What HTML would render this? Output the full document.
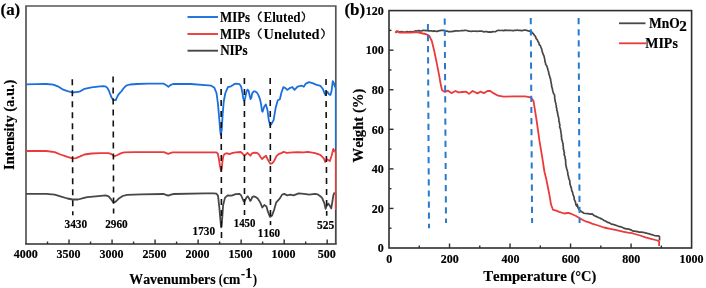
<!DOCTYPE html>
<html><head><meta charset="utf-8"><style>
html,body{margin:0;padding:0;background:#fff;width:706px;height:288px;overflow:hidden}
svg{display:block;filter:blur(0.35px)}
text{font-family:"Liberation Serif",serif;font-weight:bold;fill:#000;font-kerning:none;stroke:#000;stroke-width:0.18px}
</style></head><body>
<svg width="706" height="288" viewBox="0 0 706 288">
<path d="M26,244 L26,6 L335.8,6 L335.8,244" fill="none" stroke="#555" stroke-width="1.7"/>
<line x1="25.15" y1="244" x2="336.65000000000003" y2="244" stroke="#2e2e2e" stroke-width="1.6"/>
<line x1="47.51" y1="244" x2="47.51" y2="241.5" stroke="#2e2e2e" stroke-width="1.4"/>
<line x1="69.03" y1="244" x2="69.03" y2="239.5" stroke="#2e2e2e" stroke-width="1.4"/>
<line x1="90.54" y1="244" x2="90.54" y2="241.5" stroke="#2e2e2e" stroke-width="1.4"/>
<line x1="112.06" y1="244" x2="112.06" y2="239.5" stroke="#2e2e2e" stroke-width="1.4"/>
<line x1="133.57" y1="244" x2="133.57" y2="241.5" stroke="#2e2e2e" stroke-width="1.4"/>
<line x1="155.08" y1="244" x2="155.08" y2="239.5" stroke="#2e2e2e" stroke-width="1.4"/>
<line x1="176.60" y1="244" x2="176.60" y2="241.5" stroke="#2e2e2e" stroke-width="1.4"/>
<line x1="198.11" y1="244" x2="198.11" y2="239.5" stroke="#2e2e2e" stroke-width="1.4"/>
<line x1="219.62" y1="244" x2="219.62" y2="241.5" stroke="#2e2e2e" stroke-width="1.4"/>
<line x1="241.14" y1="244" x2="241.14" y2="239.5" stroke="#2e2e2e" stroke-width="1.4"/>
<line x1="262.65" y1="244" x2="262.65" y2="241.5" stroke="#2e2e2e" stroke-width="1.4"/>
<line x1="284.17" y1="244" x2="284.17" y2="239.5" stroke="#2e2e2e" stroke-width="1.4"/>
<line x1="305.68" y1="244" x2="305.68" y2="241.5" stroke="#2e2e2e" stroke-width="1.4"/>
<line x1="327.19" y1="244" x2="327.19" y2="239.5" stroke="#2e2e2e" stroke-width="1.4"/>
<polyline points="26.00,193.90 46.20,193.90 54.70,194.60 60.40,196.30 67.50,198.50 72.50,199.50 78.10,199.50 83.10,198.10 87.30,197.10 95.80,196.30 105.70,195.30 108.60,196.30 110.70,198.80 113.50,202.80 115.70,201.60 118.50,198.80 122.70,196.00 127.10,194.80 141.20,194.30 163.90,194.00 166.00,194.80 168.20,195.70 171.00,194.60 173.80,194.00 205.00,193.40 213.50,193.40 216.50,193.70 218.00,195.70 219.30,207.10 220.30,218.60 221.20,227.40 222.20,218.60 223.10,205.20 225.00,197.60 227.90,195.30 231.70,195.70 235.60,194.15 236.00,194.10 239.30,193.80 241.00,195.10 242.25,198.00 243.50,200.90 244.30,201.70 245.30,199.90 246.40,197.60 247.70,196.30 248.90,198.00 250.20,200.90 251.00,200.10 252.25,197.15 253.90,196.30 256.00,197.15 257.70,198.40 259.30,200.90 260.20,202.40 262.30,207.50 264.40,205.00 266.50,206.40 267.90,211.65 270.00,216.90 272.10,215.40 274.20,209.60 276.25,202.30 278.30,200.20 280.00,198.10 282.10,194.60 284.20,193.90 287.30,195.40 290.40,194.60 293.50,195.40 298.75,193.30 304.00,193.90 309.20,194.60 315.00,193.90 317.50,194.30 320.30,196.20 322.20,198.20 324.50,203.70 325.60,208.80 326.90,205.20 328.40,203.70 330.00,206.00 331.25,208.40 332.30,202.10 333.40,195.10 334.40,192.70" fill="none" stroke="#474747" stroke-width="1.8" stroke-linejoin="round"/>
<path d="M334.4,192.70 L335.6,193.70 L335.6,244" fill="none" stroke="#474747" stroke-width="1.3" stroke-linejoin="round"/>
<polyline points="26.00,151.00 46.20,151.00 54.70,152.10 60.40,154.50 67.50,156.90 72.50,158.30 76.00,158.10 80.20,156.40 84.50,154.50 91.60,153.50 100.00,153.10 108.60,153.10 111.40,154.10 114.20,156.40 116.40,155.50 121.30,153.10 124.20,152.40 134.20,152.10 163.90,152.10 168.20,153.80 172.40,152.40 205.00,152.30 216.10,152.30 217.80,153.50 218.90,159.00 220.00,166.00 221.00,170.80 221.70,168.70 222.40,161.80 223.30,156.20 224.40,154.15 226.50,153.20 229.30,154.15 232.80,152.80 236.00,152.30 240.70,152.00 242.25,153.30 244.30,155.40 245.90,154.40 247.50,152.80 249.00,154.40 250.40,155.70 251.60,153.65 254.20,152.60 256.80,152.80 258.90,154.40 260.50,157.00 262.00,159.10 263.60,157.50 266.00,155.70 266.10,156.00 268.20,160.40 270.30,163.90 272.40,163.20 274.40,160.40 276.50,156.20 278.60,154.15 281.40,153.20 283.50,151.80 287.00,152.80 292.50,152.30 298.00,152.10 303.60,152.30 307.80,151.80 315.10,153.20 320.30,154.90 323.80,158.40 325.20,161.90 326.90,159.30 329.90,161.00 331.60,155.80 333.30,148.90 334.50,151.50" fill="none" stroke="#ec3a3a" stroke-width="1.8" stroke-linejoin="round"/>
<path d="M334.5,151.50 L335.6,152.50 L335.6,210" fill="none" stroke="#ec3a3a" stroke-width="1.3" stroke-linejoin="round"/>
<polyline points="26.00,84.30 36.00,84.10 46.20,84.00 53.30,84.60 59.00,86.90 63.20,89.70 67.50,91.10 72.50,92.50 76.00,92.10 79.50,91.70 84.50,88.80 91.60,87.40 100.00,86.30 103.60,86.10 105.90,86.70 107.70,88.30 109.00,91.00 110.40,94.70 111.70,97.80 113.10,99.60 114.50,100.10 115.80,100.10 116.70,97.80 118.10,95.10 119.90,92.90 121.70,91.00 123.50,88.30 126.20,85.60 130.00,84.50 137.00,84.00 148.30,83.70 163.90,83.70 166.70,85.40 168.40,86.90 170.30,85.20 173.10,84.00 190.80,84.00 205.00,85.10 211.25,85.70 214.40,87.80 216.50,93.00 217.90,103.40 219.20,118.00 220.20,130.40 220.80,134.90 221.70,130.40 222.70,113.80 223.75,101.30 225.40,93.00 227.90,87.15 231.00,86.30 234.20,84.20 236.00,83.60 239.60,84.10 241.20,86.70 242.25,91.90 243.30,98.70 244.30,100.80 245.40,97.15 246.40,91.90 247.50,89.65 248.50,90.40 249.50,95.10 250.60,99.20 251.40,97.70 252.10,93.50 253.70,91.40 255.30,91.40 256.80,92.40 258.40,95.10 260.00,99.20 261.10,104.40 262.00,110.90 262.60,111.70 264.25,106.50 265.90,104.40 267.40,109.65 268.80,120.10 270.10,125.30 271.50,123.80 273.60,120.10 275.70,107.60 277.80,100.30 279.90,99.20 281.30,93.00 283.40,87.15 285.10,87.80 287.20,89.90 290.30,87.80 292.40,87.15 294.50,89.90 297.60,86.70 301.75,85.70 303.80,86.70 305.90,83.60 309.00,82.15 312.50,83.20 316.00,84.60 320.30,85.80 322.90,89.00 324.60,93.30 325.50,95.00 327.25,91.60 329.00,94.20 330.40,95.00 331.60,90.70 332.80,81.20 333.80,82.90 335.10,87.20" fill="none" stroke="#1a6fdc" stroke-width="1.8" stroke-linejoin="round"/>
<path d="M335.1,87.20 L335.6,88.20 L335.6,148" fill="none" stroke="#1a6fdc" stroke-width="1.3" stroke-linejoin="round"/>
<line x1="72.3" y1="79.2" x2="72.8" y2="215.3" stroke="#111" stroke-width="1.6" stroke-dasharray="6 5"/>
<line x1="113.1" y1="76.5" x2="113.6" y2="213.4" stroke="#111" stroke-width="1.6" stroke-dasharray="6 5"/>
<line x1="221.1" y1="78" x2="221.5" y2="238" stroke="#111" stroke-width="1.6" stroke-dasharray="6 5"/>
<line x1="244.4" y1="78" x2="244.5" y2="215" stroke="#111" stroke-width="1.6" stroke-dasharray="6 5"/>
<line x1="270.2" y1="78" x2="270.5" y2="225" stroke="#111" stroke-width="1.6" stroke-dasharray="6 5"/>
<line x1="326.0" y1="79" x2="326.7" y2="215.8" stroke="#111" stroke-width="1.6" stroke-dasharray="6 5"/>
<line x1="187.5" y1="17" x2="218" y2="17" stroke="#1a6fdc" stroke-width="1.9"/>
<line x1="187.5" y1="34" x2="218" y2="34" stroke="#ec3a3a" stroke-width="1.9"/>
<line x1="187.5" y1="50.7" x2="218" y2="50.7" stroke="#474747" stroke-width="1.9"/>
<rect x="389.0" y="10.6" width="302.6" height="237.4" fill="none" stroke="#2e2e2e" stroke-width="1.6"/>
<line x1="419.26" y1="248.0" x2="419.26" y2="245.5" stroke="#2e2e2e" stroke-width="1.4"/>
<line x1="449.52" y1="248.0" x2="449.52" y2="243.5" stroke="#2e2e2e" stroke-width="1.4"/>
<line x1="479.78" y1="248.0" x2="479.78" y2="245.5" stroke="#2e2e2e" stroke-width="1.4"/>
<line x1="510.04" y1="248.0" x2="510.04" y2="243.5" stroke="#2e2e2e" stroke-width="1.4"/>
<line x1="540.30" y1="248.0" x2="540.30" y2="245.5" stroke="#2e2e2e" stroke-width="1.4"/>
<line x1="570.56" y1="248.0" x2="570.56" y2="243.5" stroke="#2e2e2e" stroke-width="1.4"/>
<line x1="600.82" y1="248.0" x2="600.82" y2="245.5" stroke="#2e2e2e" stroke-width="1.4"/>
<line x1="631.08" y1="248.0" x2="631.08" y2="243.5" stroke="#2e2e2e" stroke-width="1.4"/>
<line x1="661.34" y1="248.0" x2="661.34" y2="245.5" stroke="#2e2e2e" stroke-width="1.4"/>
<line x1="389.0" y1="228.22" x2="391.5" y2="228.22" stroke="#2e2e2e" stroke-width="1.4"/>
<line x1="389.0" y1="208.43" x2="393.5" y2="208.43" stroke="#2e2e2e" stroke-width="1.4"/>
<line x1="389.0" y1="188.65" x2="391.5" y2="188.65" stroke="#2e2e2e" stroke-width="1.4"/>
<line x1="389.0" y1="168.87" x2="393.5" y2="168.87" stroke="#2e2e2e" stroke-width="1.4"/>
<line x1="389.0" y1="149.08" x2="391.5" y2="149.08" stroke="#2e2e2e" stroke-width="1.4"/>
<line x1="389.0" y1="129.30" x2="393.5" y2="129.30" stroke="#2e2e2e" stroke-width="1.4"/>
<line x1="389.0" y1="109.52" x2="391.5" y2="109.52" stroke="#2e2e2e" stroke-width="1.4"/>
<line x1="389.0" y1="89.73" x2="393.5" y2="89.73" stroke="#2e2e2e" stroke-width="1.4"/>
<line x1="389.0" y1="69.95" x2="391.5" y2="69.95" stroke="#2e2e2e" stroke-width="1.4"/>
<line x1="389.0" y1="50.17" x2="393.5" y2="50.17" stroke="#2e2e2e" stroke-width="1.4"/>
<line x1="389.0" y1="30.38" x2="391.5" y2="30.38" stroke="#2e2e2e" stroke-width="1.4"/>
<polyline points="395.40,31.80 396.92,31.72 398.45,31.64 399.96,32.03 401.49,31.66 403.00,32.00 404.45,32.03 405.90,31.91 407.35,31.69 408.80,32.01 410.25,31.68 411.70,32.00 413.09,31.56 414.50,31.20 415.88,30.80 417.30,31.00 418.70,30.63 420.13,30.78 421.56,30.97 422.94,30.39 424.36,30.38 425.79,30.57 427.20,30.40 428.58,30.86 430.03,30.75 431.46,30.78 432.83,31.33 434.32,30.83 435.70,31.30 437.14,31.40 438.52,30.85 439.92,30.60 441.34,30.43 442.77,30.42 444.20,30.40 445.57,31.05 447.13,31.05 448.50,31.70 449.81,31.66 451.12,31.60 452.42,31.31 453.73,31.33 455.02,30.89 456.32,30.79 457.64,30.79 458.97,31.03 460.27,30.75 461.57,30.57 462.89,30.66 464.19,30.47 465.50,30.40 466.95,30.49 468.32,31.05 469.75,31.21 471.20,31.30 472.66,31.07 474.14,31.25 475.60,31.17 477.08,31.36 478.54,31.21 480.00,31.00 481.69,31.09 483.29,31.80 485.00,31.70 486.78,31.63 488.50,32.10 489.92,31.96 491.35,32.12 492.75,31.62 494.18,31.77 495.60,31.70 496.86,30.71 498.40,30.30 499.75,30.42 501.10,30.49 502.44,30.35 503.79,30.56 505.14,30.17 506.49,30.44 507.83,30.37 509.18,30.36 510.53,30.27 511.88,30.54 513.22,30.61 514.57,30.28 515.92,30.41 517.27,29.99 518.61,30.44 519.96,30.40 521.31,30.65 522.66,30.53 524.00,30.15 525.35,30.22 526.70,30.30 528.11,30.91 529.60,31.30 530.40,30.80 531.57,31.60 532.27,32.83 533.35,33.72 534.10,34.90 535.05,35.98 535.81,37.18 536.10,38.66 537.20,39.65 537.70,41.00 538.47,42.14 539.00,43.40 539.32,44.77 540.43,45.73 540.82,47.07 541.40,48.30 541.85,49.77 542.11,51.30 542.63,52.75 543.08,54.22 543.80,55.60 544.29,57.02 544.54,58.51 544.92,59.96 544.90,61.50 545.50,62.90 545.70,64.46 546.73,65.74 547.21,67.21 547.68,68.68 548.00,70.20 548.56,71.61 548.77,73.12 549.08,74.60 549.68,76.00 549.90,77.50 550.58,78.88 550.64,80.41 551.01,81.86 551.21,83.35 551.60,84.80 551.59,86.32 552.07,87.75 552.49,89.18 552.72,90.66 553.10,92.10 553.52,93.58 554.46,94.86 554.70,96.40 554.62,97.78 554.91,99.11 555.04,100.46 555.29,101.79 555.77,103.09 555.97,104.43 556.37,105.74 556.21,107.13 556.80,108.41 556.70,109.80 557.27,111.14 557.45,112.56 557.76,113.95 557.91,115.38 558.38,116.74 558.69,118.13 558.86,119.55 558.90,121.00 559.41,122.34 559.46,123.75 559.93,125.09 559.57,126.58 559.99,127.93 560.54,129.26 560.70,130.65 560.87,132.05 561.09,133.43 561.49,134.79 561.23,136.26 561.70,137.60 561.58,139.04 562.16,140.38 562.37,141.77 562.87,143.11 563.08,144.51 563.13,145.92 563.40,147.30 563.23,148.76 563.91,150.07 563.90,151.50 564.47,152.83 564.06,154.33 564.59,155.67 565.09,157.01 565.06,158.44 565.65,159.77 565.54,161.22 565.80,162.60 565.69,164.17 566.00,165.69 566.34,167.20 566.70,168.70 567.18,170.06 567.42,171.48 567.88,172.85 567.78,174.34 568.26,175.71 568.60,177.10 568.76,178.54 569.42,179.85 569.84,181.22 569.79,182.70 570.02,184.12 570.46,185.49 570.84,186.86 571.40,188.20 571.53,189.64 571.94,191.02 572.64,192.32 572.79,193.75 573.25,195.11 573.82,196.44 574.17,197.83 574.20,199.30 574.88,200.62 575.44,202.00 575.69,203.49 576.06,204.94 576.90,206.20 577.25,204.40 577.61,205.94 577.90,207.50 579.10,209.70 581.00,211.30 582.90,212.50 584.04,213.28 585.40,213.50 587.90,213.65 590.40,214.10 592.25,213.90 593.80,215.30 595.40,216.15 597.25,216.90 599.10,217.80 601.00,218.65 602.60,219.40 604.10,220.50 605.90,221.30 607.75,222.40 609.60,222.80 610.90,223.90 612.75,224.30 614.60,224.90 616.50,225.50 618.40,226.30 620.25,226.60 622.10,227.20 624.00,228.15 625.90,228.90 627.75,228.90 629.60,229.40 631.50,230.15 633.40,231.15 634.70,231.00 636.00,231.54 637.40,231.40 638.66,232.08 640.10,232.15 641.46,232.13 642.80,232.30 644.21,232.51 645.50,233.10 646.94,233.21 648.30,233.70 649.72,233.95 651.00,234.60 652.39,234.70 653.70,235.20 655.03,235.58 656.40,235.80 658.60,235.90 659.50,236.70 659.50,238.55 659.50,240.40" fill="none" stroke="#474747" stroke-width="1.7" stroke-linejoin="round"/>
<polyline points="395.40,33.10 396.80,31.00 398.20,31.70 399.60,32.70 411.70,32.70 415.20,32.10 418.00,32.40 423.00,33.50 425.60,34.00 427.50,34.80 429.40,36.10 431.80,41.00 434.20,50.70 436.70,62.90 439.10,75.10 440.80,84.80 442.00,90.10 443.50,91.30 445.00,92.00 447.80,90.60 451.30,93.10 455.60,91.00 458.40,92.40 462.70,92.00 466.20,91.70 469.00,93.90 472.60,91.00 477.50,93.40 480.40,91.70 483.90,93.10 487.50,91.00 490.30,91.00 493.80,93.40 498.10,95.70 503.70,96.70 513.70,96.30 525.00,96.40 530.70,97.40 533.50,100.90 536.70,121.00 539.40,140.40 542.20,157.10 544.40,171.50 546.40,179.80 549.20,193.70 551.10,204.80 553.00,209.80 555.50,210.40 559.25,211.90 564.25,213.50 568.00,212.90 570.50,213.50 576.00,216.00 579.10,217.80 582.25,219.70 585.40,221.30 588.50,222.20 592.00,223.60 598.00,225.50 604.00,227.50 610.25,228.90 616.50,230.15 622.75,231.60 628.00,232.60 632.00,233.20 634.70,234.00 640.10,235.50 645.50,237.30 651.00,238.80 655.50,240.00 658.60,240.90 659.10,241.80 659.10,246.10" fill="none" stroke="#ec3a3a" stroke-width="1.8" stroke-linejoin="round"/>
<line x1="427.9" y1="23.9" x2="429" y2="228.3" stroke="#2a7acc" stroke-width="2" stroke-dasharray="6.2 4.9"/>
<line x1="444.7" y1="18.6" x2="446" y2="223" stroke="#2a7acc" stroke-width="2" stroke-dasharray="6.2 4.9"/>
<line x1="530.75" y1="18.1" x2="532.1" y2="223.1" stroke="#2a7acc" stroke-width="2" stroke-dasharray="6.2 4.9"/>
<line x1="578.6" y1="18.1" x2="579.6" y2="223.1" stroke="#2a7acc" stroke-width="2" stroke-dasharray="6.2 4.9"/>
<line x1="619" y1="23.3" x2="645.5" y2="23.3" stroke="#474747" stroke-width="1.8"/>
<line x1="619" y1="43.3" x2="646" y2="43.3" stroke="#ec3a3a" stroke-width="1.8"/>
<path d="M261.6,11.6 C257.29999999999995,14.66 257.29999999999995,18.74 261.6,21.8" fill="none" stroke="#1a1a1a" stroke-width="1.3"/>
<path d="M301.7,11.6 C305.6,14.66 305.6,18.74 301.7,21.8" fill="none" stroke="#1a1a1a" stroke-width="1.3"/>
<path d="M261.6,28.5 C257.29999999999995,31.56 257.29999999999995,35.64 261.6,38.7" fill="none" stroke="#1a1a1a" stroke-width="1.3"/>
<path d="M321.3,28.5 C325.3,31.56 325.3,35.64 321.3,38.7" fill="none" stroke="#1a1a1a" stroke-width="1.3"/>
<text x="0.56" y="14.70" font-size="16.2" textLength="19.68" lengthAdjust="spacingAndGlyphs" >(a)</text>
<text x="344.45" y="14.70" font-size="16.2" textLength="20.80" lengthAdjust="spacingAndGlyphs" >(b)</text>
<text x="13.65" y="258.40" font-size="12">4000</text>
<text x="56.53" y="258.40" font-size="12">3500</text>
<text x="99.56" y="258.40" font-size="12">3000</text>
<text x="142.56" y="258.40" font-size="12">2500</text>
<text x="185.59" y="258.40" font-size="12">2000</text>
<text x="228.39" y="258.40" font-size="12">1500</text>
<text x="271.41" y="258.40" font-size="12">1000</text>
<text x="317.68" y="258.40" font-size="12">500</text>
<text x="386.20" y="262.80" font-size="12">0</text>
<text x="440.70" y="262.80" font-size="12">200</text>
<text x="501.39" y="262.80" font-size="12">400</text>
<text x="561.78" y="262.80" font-size="12">600</text>
<text x="622.31" y="262.80" font-size="12">800</text>
<text x="679.55" y="262.80" font-size="12">1000</text>
<text x="377.76" y="252.30" font-size="12">0</text>
<text x="371.76" y="212.73" font-size="12">20</text>
<text x="371.76" y="173.17" font-size="12">40</text>
<text x="371.76" y="133.60" font-size="12">60</text>
<text x="371.76" y="94.03" font-size="12">80</text>
<text x="365.76" y="54.47" font-size="12">100</text>
<text x="365.76" y="14.90" font-size="12">120</text>
<text x="64.47" y="227.80" font-size="12" textLength="22.66" lengthAdjust="spacingAndGlyphs" >3430</text>
<text x="105.23" y="227.80" font-size="12" textLength="22.50" lengthAdjust="spacingAndGlyphs" >2960</text>
<text x="192.60" y="234.90" font-size="12" textLength="22.53" lengthAdjust="spacingAndGlyphs" >1730</text>
<text x="233.73" y="226.90" font-size="12" textLength="21.68" lengthAdjust="spacingAndGlyphs" >1450</text>
<text x="257.86" y="237.20" font-size="12" textLength="22.16" lengthAdjust="spacingAndGlyphs" >1160</text>
<text x="317.04" y="229.10" font-size="12" textLength="17.28" lengthAdjust="spacingAndGlyphs" >525</text>
<text x="129.30" y="283.50" font-size="15" textLength="86.34" lengthAdjust="spacingAndGlyphs" >Wavenumbers</text>
<text x="218.87" y="283.50" font-size="15" textLength="4.02" lengthAdjust="spacingAndGlyphs" font-weight="normal" style="stroke-width:0">(</text>
<text x="222.94" y="283.50" font-size="15" textLength="17.29" lengthAdjust="spacingAndGlyphs" >cm</text>
<text x="241.06" y="278.40" font-size="13" textLength="3.97" lengthAdjust="spacingAndGlyphs" font-weight="normal" >-</text>
<text x="245.19" y="278.20" font-size="15" textLength="6.93" lengthAdjust="spacingAndGlyphs" >1</text>
<text x="252.67" y="283.50" font-size="15" textLength="4.41" lengthAdjust="spacingAndGlyphs" font-weight="normal" style="stroke-width:0">)</text>
<text x="483.27" y="281.30" font-size="14.6" textLength="83.51" lengthAdjust="spacingAndGlyphs" >Temperature</text>
<text x="570.57" y="281.30" font-size="14.6" textLength="25.77" lengthAdjust="spacingAndGlyphs" >(°C)</text>
<text transform="translate(14.20,169.99) rotate(-90)" x="0" y="0" font-size="15" textLength="90.42" lengthAdjust="spacingAndGlyphs" >Intensity (a.u.)</text>
<text transform="translate(363.10,162.41) rotate(-90)" x="0" y="0" font-size="14.5" textLength="73.75" lengthAdjust="spacingAndGlyphs" >Weight (%)</text>
<text x="220.08" y="22.00" font-size="13.7" textLength="30.03" lengthAdjust="spacingAndGlyphs" >MIPs</text>
<text x="220.08" y="38.70" font-size="13.7" textLength="30.03" lengthAdjust="spacingAndGlyphs" >MIPs</text>
<text x="263.38" y="22.00" font-size="13.7" textLength="37.27" lengthAdjust="spacingAndGlyphs" style="stroke-width:0">Eluted</text>
<text x="263.64" y="38.70" font-size="13.7" textLength="55.92" lengthAdjust="spacingAndGlyphs" style="stroke-width:0">Uneluted</text>
<text x="220.15" y="55.30" font-size="13.7" textLength="27.47" lengthAdjust="spacingAndGlyphs" >NIPs</text>
<text x="648.97" y="28.40" font-size="13.6" textLength="30.69" lengthAdjust="spacingAndGlyphs" >MnO</text>
<text x="679.16" y="31.10" font-size="13.9" textLength="7.59" lengthAdjust="spacingAndGlyphs" >2</text>
<text x="645.26" y="48.15" font-size="14.0" textLength="32.58" lengthAdjust="spacingAndGlyphs" >MIPs</text>
</svg>
</body></html>
